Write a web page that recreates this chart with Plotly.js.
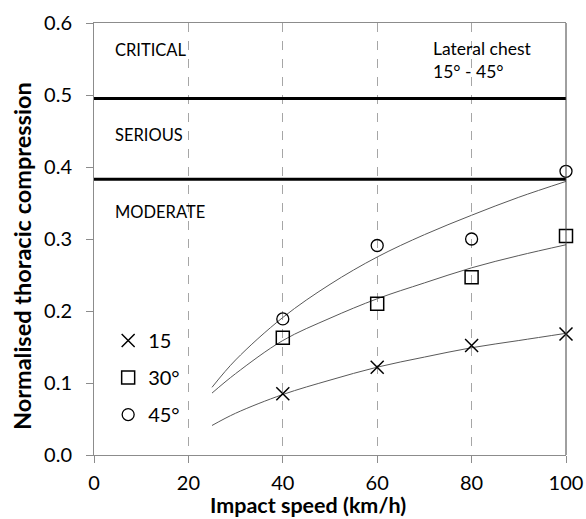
<!DOCTYPE html>
<html>
<head>
<meta charset="utf-8">
<script src="https://cdn.plot.ly/plotly-3.0.1.min.js"></script>
<style>html,body{margin:0;padding:0;background:#fff;}#chart{width:586px;height:519px;}</style>
</head>
<body>
<div id="chart"></div>
<script>
// Measured data points
const speeds = [40, 60, 80, 100];
const comp15 = [0.085, 0.122, 0.152, 0.168];
const comp30 = [0.163, 0.210, 0.247, 0.304];
const comp45 = [0.189, 0.291, 0.300, 0.394];

// Trend curves
const fitSpeeds = [25, 30, 40, 50, 60, 70, 80, 90, 100];
const fit15 = [0.041, 0.058, 0.084, 0.104, 0.122, 0.136, 0.149, 0.159, 0.169];
const fit30 = [0.086, 0.113, 0.159, 0.190, 0.217, 0.239, 0.260, 0.277, 0.292];
const fit45 = [0.094, 0.132, 0.191, 0.237, 0.275, 0.306, 0.333, 0.358, 0.380];

// Injury thresholds
const thresholdX = [0, 100];
const thresholdSerious = [0.495, 0.495];
const thresholdModerate = [0.383, 0.383];

const seriesNames = ['15', '30°', '45°'];
const zoneLabels = ['CRITICAL', 'SERIOUS', 'MODERATE'];
const zoneLabelY = [0.5625, 0.444, 0.3375];
const xTitle = 'Impact speed (km/h)';
const yTitle = 'Normalised thoracic compression';

const FONT = 'Lato, "Open Sans", sans-serif';
const fitLine = {color: '#595959', width: 1};

const traces = [
  {x: fitSpeeds, y: fit15, mode: 'lines', line: Object.assign({shape: 'spline'}, fitLine), showlegend: false, hoverinfo: 'skip'},
  {x: fitSpeeds, y: fit30, mode: 'lines', line: Object.assign({shape: 'spline'}, fitLine), showlegend: false, hoverinfo: 'skip'},
  {x: fitSpeeds, y: fit45, mode: 'lines', line: Object.assign({shape: 'spline'}, fitLine), showlegend: false, hoverinfo: 'skip'},
  {x: thresholdX, y: thresholdSerious, mode: 'lines', line: {color: '#000', width: 3}, showlegend: false},
  {x: thresholdX, y: thresholdModerate, mode: 'lines', line: {color: '#000', width: 3}, showlegend: false},
  {x: speeds, y: comp15, name: seriesNames[0], legendgroup: 'a', mode: 'markers', cliponaxis: false,
   marker: {symbol: 'x-thin-open', size: 13, color: '#000', line: {color: '#000', width: 1.5}}},
  {x: speeds, y: comp30, name: seriesNames[1], legendgroup: 'b', mode: 'markers', cliponaxis: false,
   marker: {symbol: 'square-open', size: 13, color: '#000', line: {color: '#000', width: 1.5}}},
  {x: speeds, y: comp45, name: seriesNames[2], legendgroup: 'c', mode: 'markers', cliponaxis: false,
   marker: {symbol: 'circle-open', size: 12, color: '#000', line: {color: '#000', width: 1.3}}}
];

const annotations = zoneLabels.map((t, i) => ({
  x: 4, y: zoneLabelY[i], xref: 'x', yref: 'y', text: t, showarrow: false,
  xanchor: 'left', yanchor: 'middle', font: {family: FONT, size: 16.5, color: '#000'}
}));
annotations.push({
  x: 71.5, y: 0.548, xref: 'x', yref: 'y', text: 'Lateral chest<br>15° - 45°', showarrow: false,
  xanchor: 'left', yanchor: 'middle', align: 'left', font: {family: FONT, size: 17.5, color: '#000'}
});
// Axis titles (placed as in the reference, slightly off-centre)
annotations.push({
  x: 0.453, y: -0.147, xref: 'paper', yref: 'paper', text: '<b>' + xTitle + '</b>', showarrow: false,
  xanchor: 'center', yanchor: 'bottom', borderpad: 0, font: {family: FONT, size: 21.5, color: '#000'}
});
annotations.push({
  x: -0.153, y: 0.46, xref: 'paper', yref: 'paper', text: '<b>' + yTitle + '</b>', showarrow: false,
  textangle: -90, xanchor: 'center', yanchor: 'middle', font: {family: FONT, size: 23.5, color: '#000'}
});

const layout = {
  width: 586, height: 519,
  margin: {l: 94, r: 20, t: 23, b: 64},
  paper_bgcolor: '#fff', plot_bgcolor: '#fff',
  font: {family: FONT, color: '#000'},
  showlegend: true,
  legend: {x: 0.03, y: 0.31, xanchor: 'left', yanchor: 'top', bgcolor: 'rgba(0,0,0,0)',
           font: {family: FONT, size: 20, color: '#000'}, itemwidth: 30, tracegroupgap: 8},
  xaxis: {
    range: [0, 100], dtick: 20, tick0: 0,
    showline: true, linecolor: '#8c8c8c', linewidth: 1, mirror: true,
    ticks: 'outside', ticklen: 7, tickcolor: '#8c8c8c', ticklabelstandoff: 3,
    showgrid: true, gridcolor: '#a6a6a6', griddash: 'dash', gridwidth: 1,
    zeroline: false,
    tickfont: {family: FONT, size: 20, color: '#000'}
  },
  yaxis: {
    range: [0, 0.6], dtick: 0.1, tick0: 0, tickformat: '.1f',
    showline: true, linecolor: '#8c8c8c', linewidth: 1,
    ticks: 'outside', ticklen: 7, tickcolor: '#8c8c8c', ticklabelstandoff: 10,
    showgrid: false, zeroline: false,
    tickfont: {family: FONT, size: 20, color: '#000'}
  },
  shapes: [
    {type: 'line', xref: 'paper', yref: 'paper', x0: 1, x1: 1, y0: 0, y1: 1, line: {color: '#404040', width: 1}}
  ],
  annotations: annotations
};

Plotly.newPlot('chart', traces, layout, {displayModeBar: false, staticPlot: true});
</script>
</body>
</html>
